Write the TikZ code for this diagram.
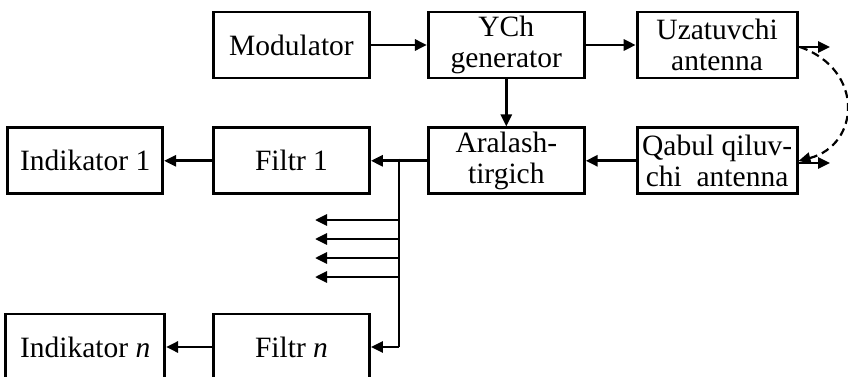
\documentclass[tikz,border=0pt]{standalone}
\usepackage{fontspec}
\setmainfont{Liberation Serif}
\usetikzlibrary{arrows.meta,positioning}
\begin{document}
\begin{tikzpicture}[
  x=1pt, y=-1pt,
  node distance=47pt and 52pt,
  box/.style={draw, line width=2.8pt, inner sep=0pt, align=center,
              minimum width=156pt, minimum height=66pt,
              font=\fontsize{29.5}{31}\selectfont},
  arrow/.style={-{Triangle[length=12pt,width=11pt]}, line width=2.8pt},
]
\useasboundingbox (0,0) rectangle (848,377);
% Top row
\node[box] (modul) at (291.5,45) {Modulator};
\node[box, right=56pt of modul] (ych) {YCh\\generator};
\node[box, right=50pt of ych, minimum width=160pt] (uzat) {Uzatuvchi\\antenna};
% Middle row
\node[box, below=of ych] (arash) {Aralash-\\tirgich};
\node[box, below=of uzat, minimum width=160pt] (qabul) {Qabul qiluv-\\chi\ \ antenna};
\node[box, below=of modul] (filtr1) {Filtr 1};
\node[box, left=48pt of filtr1, minimum width=155pt] (ind1) {Indikator 1};
% Bottom row
\node[box] (filtrn) at (291.5,347) {Filtr \textit{n}};
\node[box, left=46pt of filtrn, minimum width=159pt] (indn) {Indikator \textit{n}};

% Links
\draw[arrow] (modul) -- (ych);
\draw[arrow] (ych) -- (uzat);
\draw[arrow] (ych) -- (arash);
\draw[arrow] (qabul) -- (arash);
\draw[arrow] (arash.west) -- (filtr1.east);
\draw[arrow] (filtr1) -- (ind1);
\draw[arrow] (filtrn) -- (indn);
% Antennas
\coordinate (uzout) at (830,47);
\coordinate (qbout) at (830,163);
\draw[arrow] (uzat.east |- uzout) -- (uzout);
\draw[arrow] (qabul.east |- qbout) -- (qbout);
\draw[arrow, line width=2.2pt, dash pattern=on 8pt off 5pt]
  (800,47) .. controls (865,70) and (860,145) .. (qabul.east |- 0,161);
% Bus to the filters
\coordinate (bus1) at (399,158.5);
\coordinate (busn) at (399,347);
\draw[line width=2.8pt] (bus1) -- (busn);
\draw[arrow] (busn) -- (filtrn.east);
\foreach \y in {220,239,258,277}
  \draw[arrow] (399,\y) -- (315,\y);
\end{tikzpicture}
\end{document}
